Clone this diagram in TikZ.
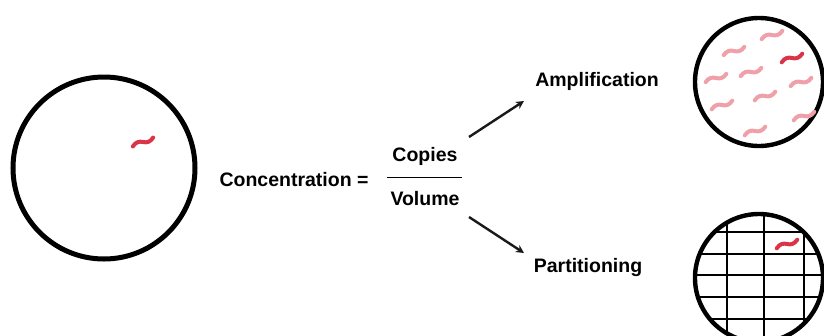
\documentclass[tikz,border=0pt]{standalone}
\usepackage{fontspec}
\setmainfont{Liberation Sans}
\usetikzlibrary{arrows.meta}
\definecolor{darkred}{RGB}{218,52,72}
\definecolor{lightred}{RGB}{240,160,168}
\tikzset{
  lbl/.style={font=\fontsize{19.5}{22}\selectfont\bfseries, text=black, inner sep=1pt},
  dish/.style={draw=black, line width=5pt},
  gridline/.style={draw=black, line width=2pt},
  squig/.style={line width=4pt, line cap=round},
  arr/.style={draw=black!90, line width=2.4pt, -{Stealth[length=8pt,width=8pt]}}
}
\newcommand{\squigat}[4]{%
  \draw[squig, #4, shift={(#1,#2)}, rotate=#3]
    (-11,1.5) .. controls (-7,-2.2) and (-3,-1.8) .. (0,0) .. controls (3,1.8) and (7,2.2) .. (11,-1.5);}
\begin{document}
\begin{tikzpicture}[x=1pt,y=-1pt]
\useasboundingbox (0,0) rectangle (824,335);
% big sample circle
\draw[dish] (104,168) circle[radius=91];
\squigat{143}{142}{16}{darkred}
% formula
\node[lbl] (conc) at (294,180) {Concentration =};
\node[lbl] (copies) at (425,156) {Copies};
\node[lbl] (volume) at (425,199) {Volume};
\draw[line width=1.4pt] (387,177.5) -- (462,177.5);
\coordinate (upstart) at (469,137);
\coordinate (downstart) at (469,217);
\node[lbl] (ampl) at (597,81) {Amplification};
\node[lbl] (part) at (588,267) {Partitioning};
\coordinate (upend) at (524,101);
\coordinate (downend) at (524,253);
\draw[arr] (upstart) -- (upend);
\draw[arr] (downstart) -- (downend);
% amplification dish
\draw[dish, line width=4.4pt] (759,82) circle[radius=64];
\squigat{772}{35}{14}{lightred}
\squigat{734}{51}{14}{lightred}
\squigat{716}{78}{14}{lightred}
\squigat{751}{72}{14}{lightred}
\squigat{801}{82}{14}{lightred}
\squigat{722}{105}{15}{lightred}
\squigat{765}{96}{15}{lightred}
\squigat{804}{116}{15}{lightred}
\squigat{755}{131}{15}{lightred}
\squigat{792}{58}{15}{darkred}
% partitioning dish
\begin{scope}
\clip (759,278) circle[radius=64];
\foreach \gx in {727,764,804} \draw[gridline] (\gx,200) -- (\gx,345);
\foreach \gy in {232,253.5,275,297,318.5} \draw[gridline] (680,\gy) -- (830,\gy);
\end{scope}
\draw[dish, line width=4.4pt] (759,278) circle[radius=64];
\squigat{787}{244}{15}{darkred}
\end{tikzpicture}
\end{document}
